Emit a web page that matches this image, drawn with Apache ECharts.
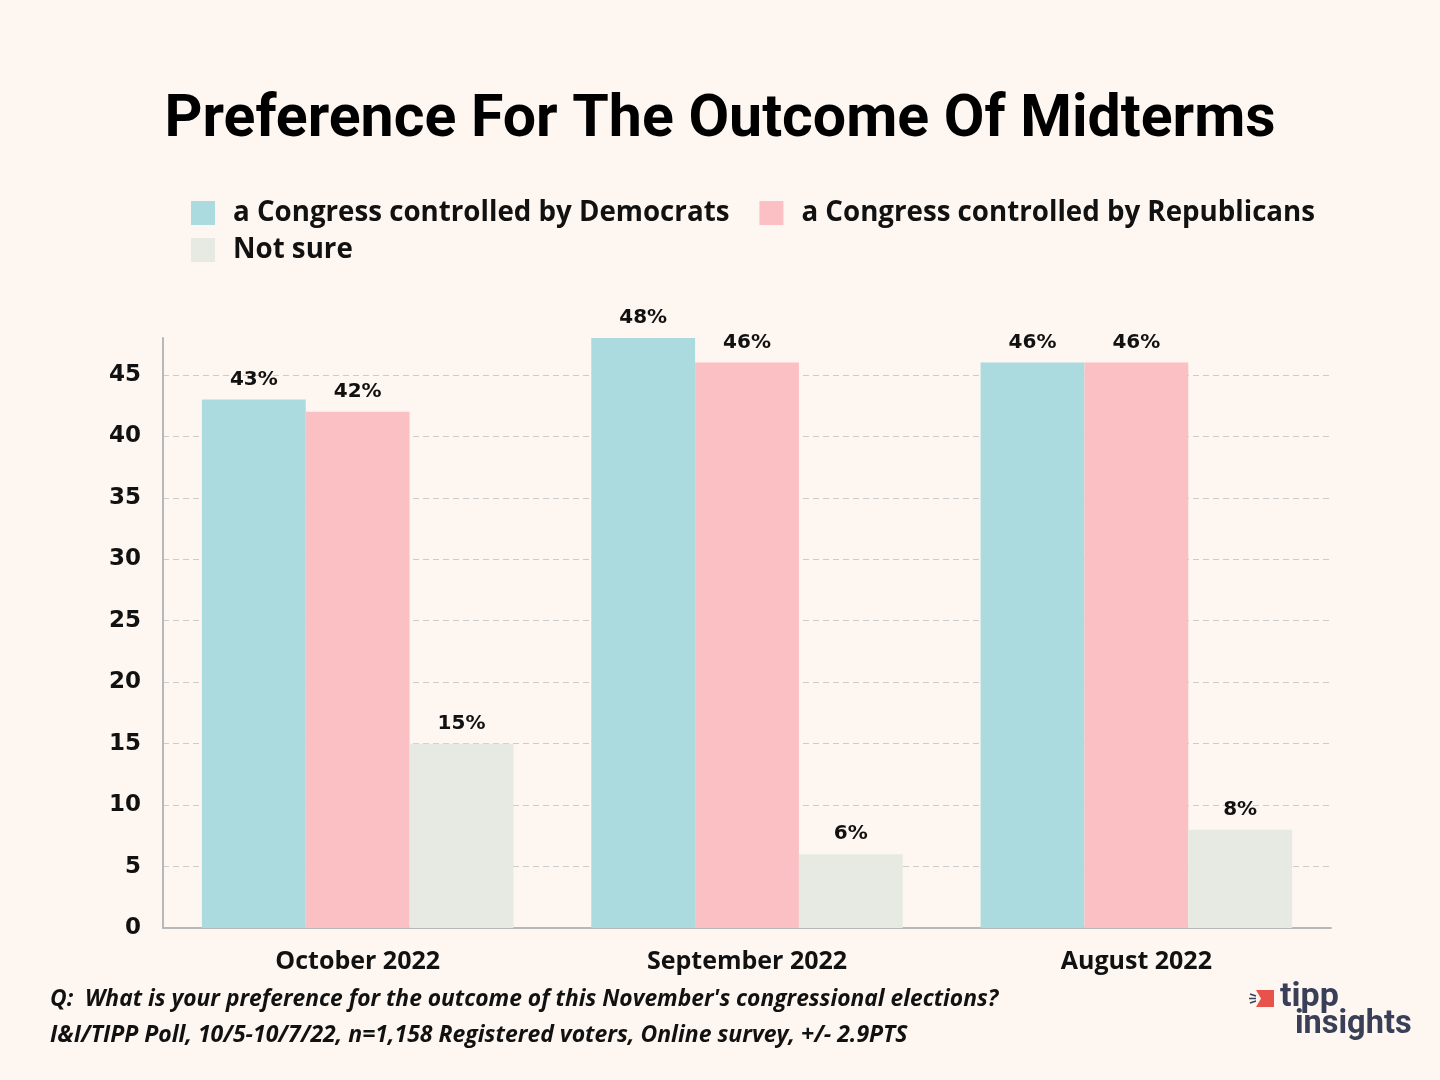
<!DOCTYPE html>
<html>
<head>
<meta charset="utf-8">
<script src="https://cdn.jsdelivr.net/npm/echarts@6/dist/echarts.min.js"></script>
<style>
html,body{margin:0;padding:0;background:#fdf6f1;}
#chart{width:1440px;height:1080px;}
</style>
</head>
<body>
<div id="chart"></div>
<script>
const categories = ['October 2022', 'September 2022', 'August 2022'];
const seriesNames = ['a Congress controlled by Democrats', 'a Congress controlled by Republicans', 'Not sure'];
const democrats = [43, 48, 46];
const republicans = [42, 46, 46];
const notSure = [15, 6, 8];
const colors = ['#acdbdf', '#fbc0c4', '#e6eae2'];

const chart = echarts.init(document.getElementById('chart'));
const wide = '"Open Sans", Roboto, sans-serif';
const dejavu = '"DejaVu Sans", sans-serif';
const labelStyle = {
  show: true, position: 'top', distance: 10,
  formatter: p => p.value + '%',
  fontSize: 20, fontWeight: 'bold', color: '#111', fontFamily: dejavu
};
const mk = (name, data, i) => ({
  name, type: 'bar', data, barGap: '0%', barCategoryGap: '20%',
  itemStyle: { color: colors[i] }, label: labelStyle
});
const legendBase = {
  left: 191, padding: 0, itemWidth: 24, itemHeight: 24, itemGap: 30, icon: 'rect',
  textStyle: { fontSize: 27.7, fontWeight: 'bold', color: '#111', fontFamily: wide, padding: [0, 0, 0, 13] }
};

chart.setOption({
  backgroundColor: '#fdf6f1',
  animation: false,
  title: {
    text: 'Preference For The Outcome Of Midterms',
    left: 'center', top: 87,
    textStyle: { fontSize: 59, fontWeight: 'bold', color: '#000', fontFamily: 'Roboto, sans-serif' }
  },
  legend: [
    Object.assign({}, legendBase, { top: 199, data: seriesNames.slice(0, 2) }),
    Object.assign({}, legendBase, { top: 236, data: seriesNames.slice(2) })
  ],
  grid: { left: 163, right: 109, top: 338, bottom: 152, containLabel: false },
  xAxis: {
    type: 'category', data: categories,
    axisLine: { lineStyle: { color: '#b8b8b8', width: 2 } },
    axisTick: { show: false },
    axisLabel: { fontSize: 25, fontWeight: 'bold', color: '#111', margin: 21, fontFamily: wide }
  },
  yAxis: {
    type: 'value', min: 0, max: 48, interval: 5,
    axisLine: { show: true, lineStyle: { color: '#b8b8b8', width: 2 } },
    axisTick: { show: false },
    splitLine: { show: true, showMaxLine: false, lineStyle: { color: '#cccccc', type: [6, 4], width: 1 } },
    axisLabel: { showMaxLabel: false, fontSize: 23, fontWeight: 'bold', color: '#111', margin: 22, fontFamily: dejavu }
  },
  series: [mk(seriesNames[0], democrats, 0), mk(seriesNames[1], republicans, 1), mk(seriesNames[2], notSure, 2)],
  graphic: [
    { type: 'text', left: 50, top: 988,
      style: { text: "Q:  What is your preference for the outcome of this November's congressional elections?", fontSize: 22.8, fontStyle: 'italic', fontWeight: 'bold', fill: '#111', fontFamily: wide } },
    { type: 'text', left: 50, top: 1024,
      style: { text: 'I&I/TIPP Poll, 10/5-10/7/22, n=1,158 Registered voters, Online survey, +/- 2.9PTS', fontSize: 23, fontStyle: 'italic', fontWeight: 'bold', fill: '#111', fontFamily: wide } },
    { type: 'polygon', shape: { points: [[1256,990],[1274,990],[1274,1007],[1256,1007],[1261,998.5]] }, style: { fill: '#e8524a' } },
    { type: 'line', shape: { x1: 1250, y1: 994, x2: 1256, y2: 996 }, style: { stroke: '#3a3f58', lineWidth: 1.5 } },
    { type: 'line', shape: { x1: 1249, y1: 998.5, x2: 1256, y2: 998.5 }, style: { stroke: '#3a3f58', lineWidth: 1.5 } },
    { type: 'line', shape: { x1: 1250, y1: 1003, x2: 1256, y2: 1001 }, style: { stroke: '#3a3f58', lineWidth: 1.5 } },
    { type: 'text', left: 1280, top: 980,
      style: { text: 'tipp', fontSize: 34, fontWeight: 'bold', fill: '#3a3f58', fontFamily: 'Roboto, sans-serif' } },
    { type: 'text', left: 1295, top: 1008,
      style: { text: 'insights', fontSize: 32.5, fontWeight: 'bold', fill: '#3a3f58', fontFamily: 'Roboto, sans-serif' } }
  ]
});
</script>
</body>
</html>
